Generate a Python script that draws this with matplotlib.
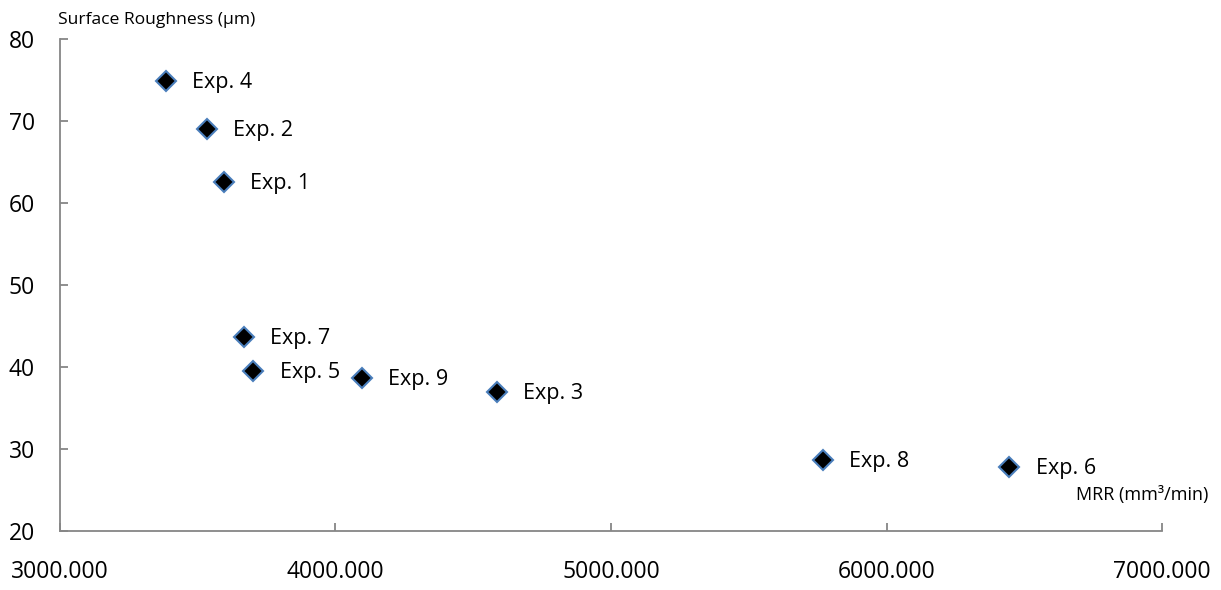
import matplotlib
matplotlib.use('Agg')
from matplotlib import pyplot as plt

plt.rcParams['font.family'] = ['Open Sans', 'DejaVu Sans']

# MRR (mm3/min) and surface roughness (um) per experiment
mrr = [3595, 3532, 4585, 3385, 3702, 6445, 3668, 5768, 4095]
roughness = [62.5, 69.0, 36.9, 74.9, 39.5, 27.8, 43.6, 28.6, 38.6]
names = ['Exp. 1', 'Exp. 2', 'Exp. 3', 'Exp. 4', 'Exp. 5',
         'Exp. 6', 'Exp. 7', 'Exp. 8', 'Exp. 9']

x_ticks = [3000, 4000, 5000, 6000, 7000]
y_ticks = [20, 30, 40, 50, 60, 70, 80]

grey = '#868686'

fig = plt.figure(figsize=(12.21, 5.90), dpi=100)
ax = fig.add_axes([0.0491, 0.1, 0.9026, 0.8339])

ax.plot(mrr, roughness, linestyle='none', marker='D', markersize=10,
        markerfacecolor='black', markeredgecolor='#4a7ebb', markeredgewidth=1.5)

for x, y, n in zip(mrr, roughness, names):
    ax.annotate(n, (x, y), xytext=(19, -1), textcoords='offset points',
                va='center', ha='left', fontsize=15.5)

ax.set_xlim(3000, 7000)
ax.set_ylim(20, 80)
ax.set_xticks(x_ticks)
ax.set_xticklabels(['%.3f' % v for v in x_ticks])
ax.set_yticks(y_ticks)

for s in ['top', 'right']:
    ax.spines[s].set_visible(False)
for s in ['left', 'bottom']:
    ax.spines[s].set_color(grey)
    ax.spines[s].set_linewidth(1.3)

ax.tick_params(axis='both', direction='in', length=6, width=1.3, color=grey,
               labelsize=16.5)
ax.tick_params(axis='x', pad=21)
ax.tick_params(axis='y', pad=18)

fig.text(58 / 1221, 1 - 20 / 590, 'Surface Roughness (µm)', fontsize=12.6,
         ha='left', va='center')
fig.text(1208 / 1221, 1 - 495 / 590, 'MRR (mm³/min)', fontsize=13,
         ha='right', va='center')

fig.savefig('out.png', dpi=100)
